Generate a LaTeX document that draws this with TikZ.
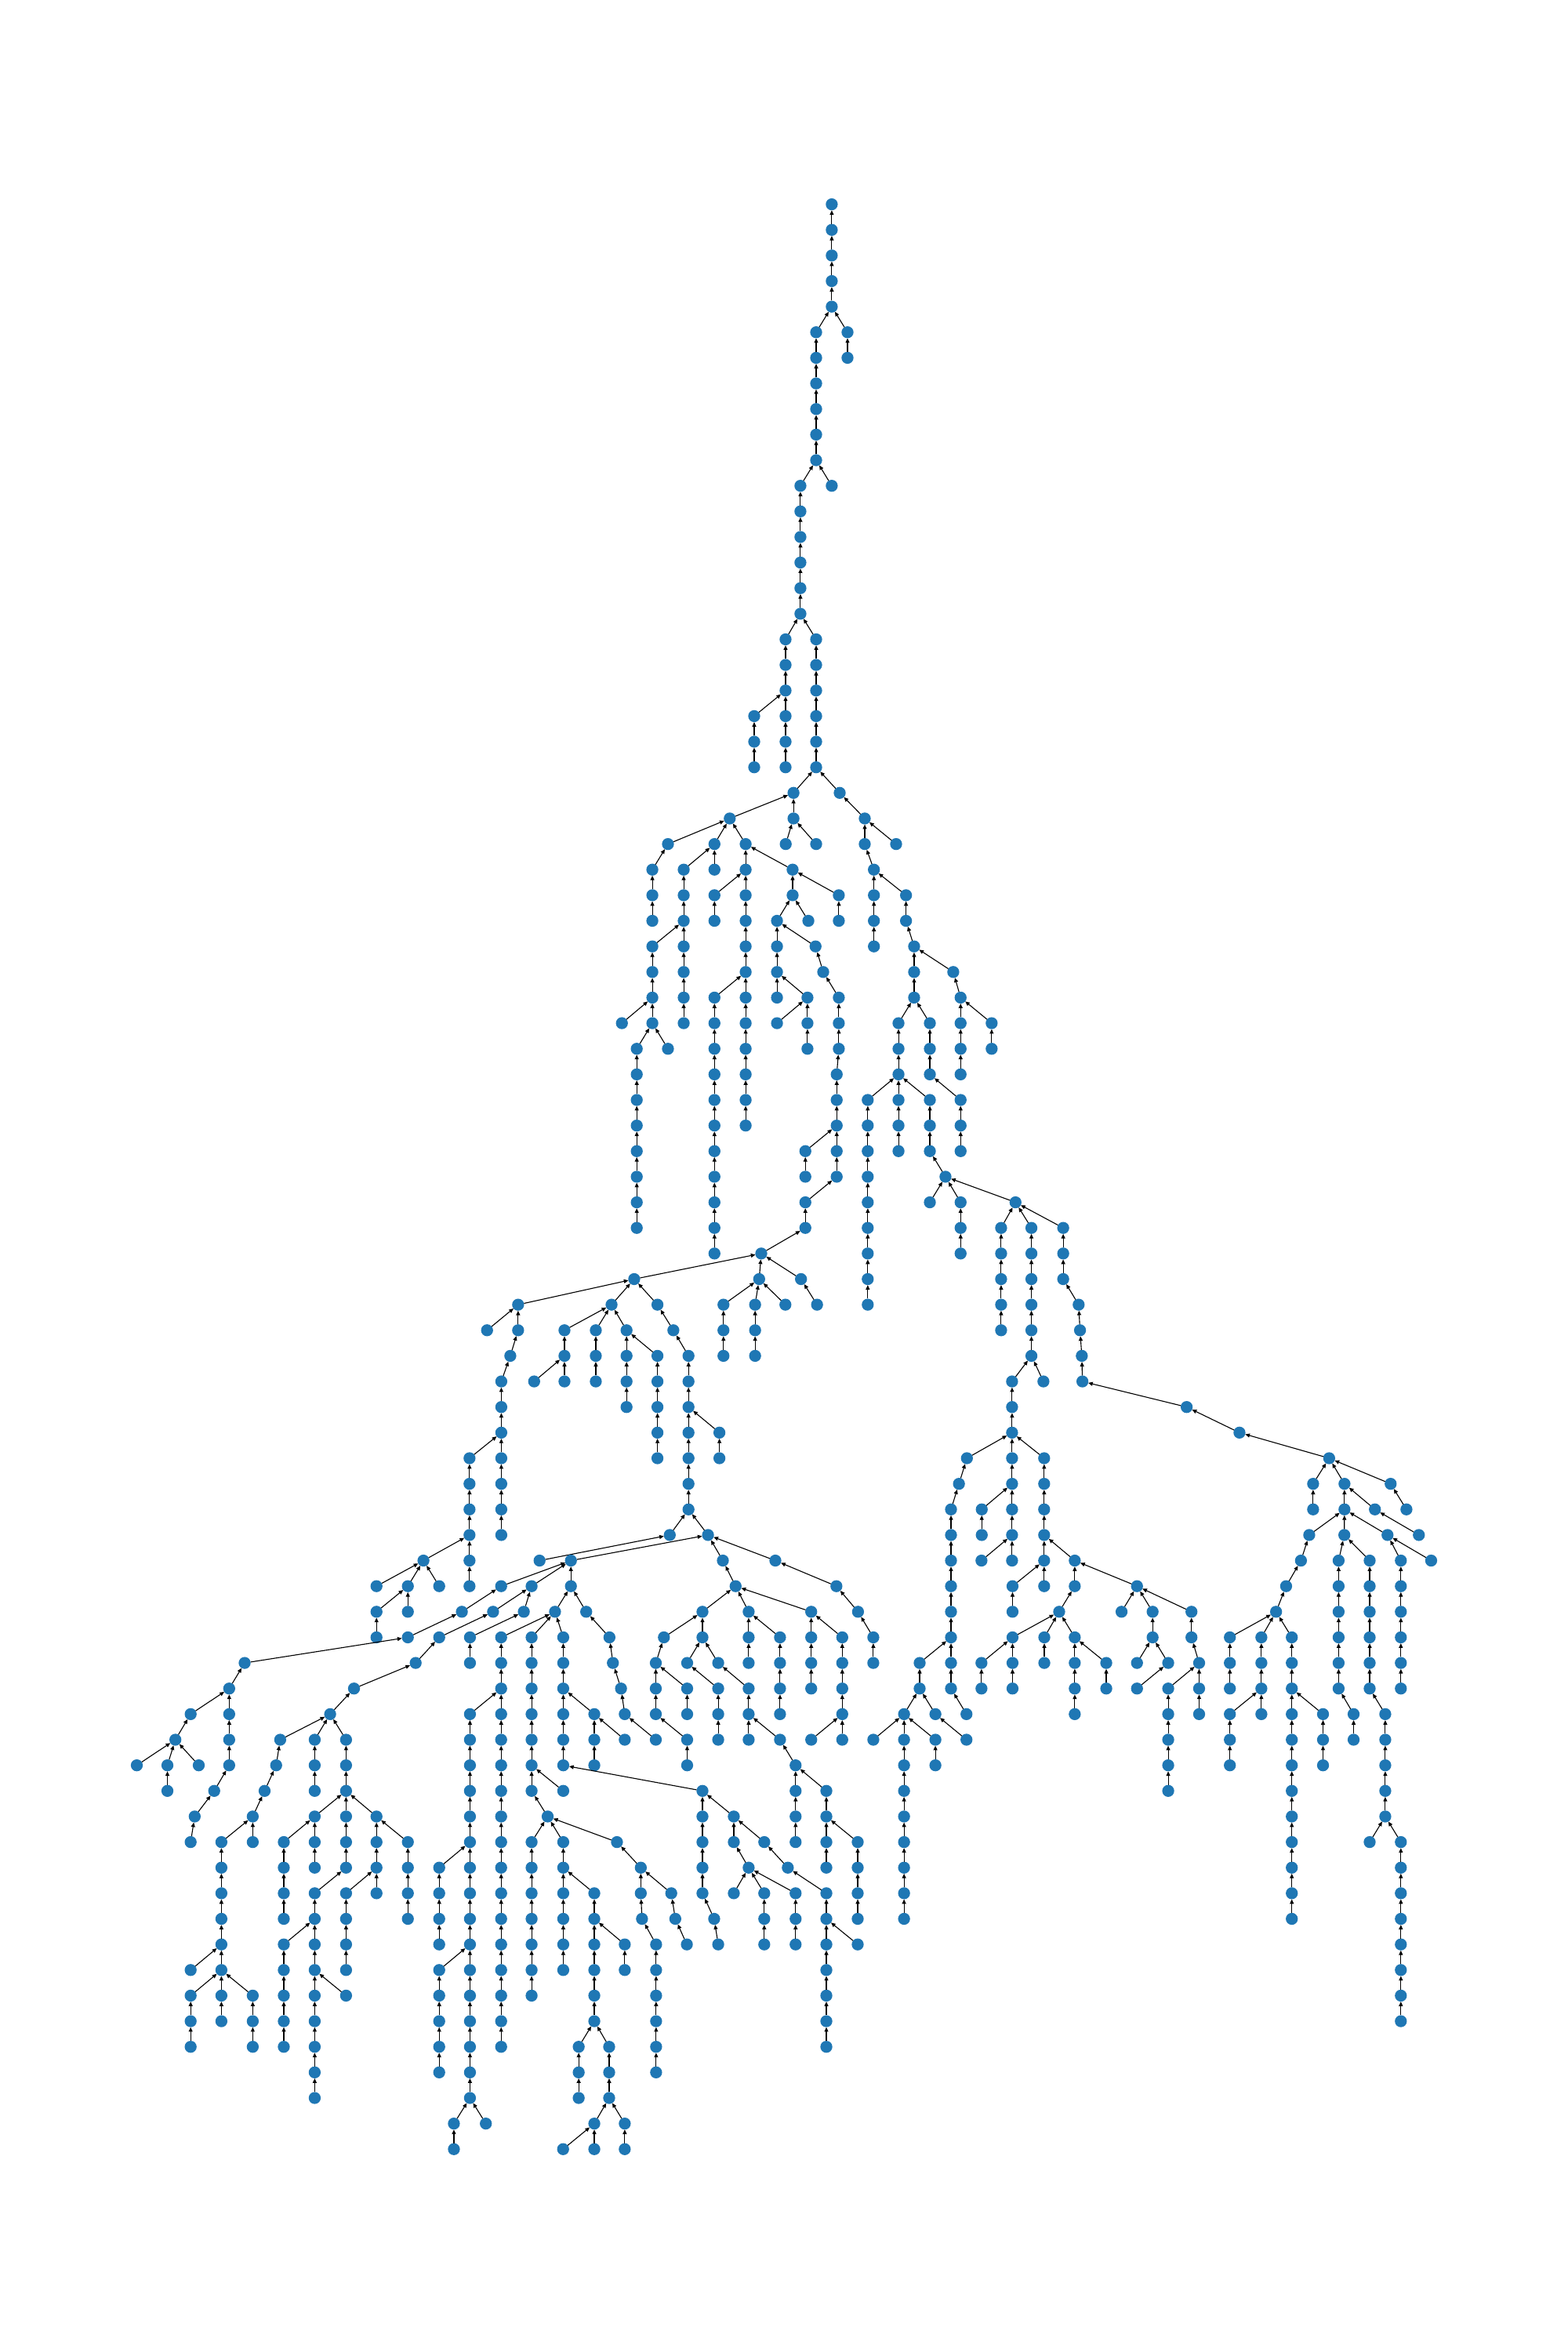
\documentclass[tikz,border=0pt]{standalone}
\usetikzlibrary{arrows.meta}
\definecolor{nodeblue}{HTML}{1F77B4}
\tikzset{
  dot/.style={circle, fill=nodeblue, draw=none, minimum size=8pt, inner sep=0pt, outer sep=0pt},
  edge/.style={-{Triangle[length=3.0pt,width=2.6pt]}, line width=0.58pt, black}
}
% \Br{prefix}{parent}{x}{first level}{last level}: vertical run of nodes prefix-L
\newcommand\Br[5]{%
  \foreach \l in {#4,...,#5}{%
    \node[dot] (#1-\l) at (#3,{136.2+17.06*\l}) {};
    \ifnum\l=#4\relax
      \draw[edge] (#1-\l) -- (#2);
    \else
      \pgfmathtruncatemacro\pl{\l-1}%
      \draw[edge] (#1-\l) -- (#1-\pl);
    \fi
  }%
}
\begin{document}
\begin{tikzpicture}[x=1pt,y=-1pt]
\fill[white] (0,0) rectangle (1045,1568);
\useasboundingbox (0,0) rectangle (1045,1568);
\node[dot] (t-0) at (554.5,136.2) {};
\Br{t}{t-0}{554.5}{1}{4}
\Br{a}{t-4}{544.1}{5}{10}
\Br{b}{t-4}{565.0}{5}{6}
\Br{c}{a-10}{533.6}{11}{16}
\Br{d}{a-10}{554.5}{11}{11}
\Br{e}{c-16}{523.7}{17}{22}
\Br{f}{e-19}{502.8}{20}{22}
\Br{g}{c-16}{544.1}{17}{22}
\Br{h}{g-22}{529.0}{23}{24}
\Br{i}{h-24}{523.8}{25}{25}
\Br{j}{h-24}{544.1}{25}{25}
\Br{k}{g-22}{559.8}{23}{23}
\Br{l}{k-23}{576.5}{24}{25}
\Br{m}{l-24}{597.4}{25}{25}
\Br{n}{l-25}{582.6}{26}{29}
\Br{o}{n-26}{604.0}{27}{28}
\Br{p}{o-28}{609.4}{29}{31}
\Br{q}{p-31}{599.0}{32}{34}
\Br{r}{q-34}{578.5}{35}{43}
\Br{s}{q-34}{599.0}{35}{37}
\Br{u}{q-34}{619.9}{35}{37}
\Br{v}{u-37}{630.3}{38}{38}
\Br{w}{v-38}{619.9}{39}{39}
\Br{x}{v-38}{640.4}{39}{41}
\Br{y}{v-38}{677.0}{39}{39}
\Br{z}{p-31}{619.9}{32}{34}
\Br{aa}{z-34}{640.4}{35}{37}
\Br{ab}{p-29}{635.5}{30}{30}
\Br{ac}{ab-30}{640.4}{31}{34}
\Br{ad}{ac-31}{661.1}{32}{33}
% left upper subtree
\Br{ra}{h-23}{486.5}{24}{24}
\Br{rb}{ra-24}{445.3}{25}{25}
\Br{rc}{rb-25}{434.9}{26}{28}
\Br{rd}{ra-24}{476.3}{25}{26}
\Br{re}{rd-25}{455.8}{26}{32}
\Br{rf}{re-28}{434.9}{29}{32}
\Br{rg}{rf-31}{414.6}{32}{32}
\Br{rh}{rf-32}{424.5}{33}{40}
\Br{ri}{rf-32}{445.3}{33}{33}
\Br{rj}{ra-24}{497.1}{25}{36}
\Br{rk}{rj-26}{476.3}{27}{28}
\Br{rl}{rj-30}{476.3}{31}{41}
\Br{rm}{rj-25}{528.4}{26}{27}
\Br{rn}{rm-27}{518.0}{28}{31}
\Br{ro}{rm-27}{538.9}{28}{28}
\Br{rp}{rn-30}{538.3}{31}{33}
\Br{rq}{rp-31}{518.0}{32}{32}
\Br{rr}{rn-28}{543.7}{29}{29}
\Br{rs}{rr-29}{548.8}{30}{30}
\Br{rt}{rs-30}{559.2}{31}{33}
\Br{ru}{rt-33}{557.8}{34}{38}
\Br{rv}{ru-36}{536.9}{37}{38}
\Br{rw}{ru-38}{536.9}{39}{40}
\Br{rx}{rm-26}{559.2}{27}{28}
% middle
\Br{ma}{rw-40}{507.5}{41}{41}
\Br{mb}{ma-41}{506.1}{42}{42}
\Br{mc}{ma-41}{534.0}{42}{42}
\Br{md}{mc-42}{544.7}{43}{43}
\Br{me}{mb-42}{482.3}{43}{45}
\Br{mf}{mb-42}{503.4}{43}{45}
\Br{mg}{mb-42}{523.6}{43}{43}
\Br{mh}{ma-41}{422.8}{42}{42}
\Br{mi}{mh-42}{345.4}{43}{44}
\Br{mj}{mi-43}{324.7}{44}{44}
\Br{mk}{mi-44}{340.2}{45}{45}
\Br{ml}{mk-45}{334.2}{46}{52}
\Br{mm}{ml-48}{313.0}{49}{54}
\Br{mn}{mh-42}{407.7}{43}{43}
\Br{mo}{mn-43}{376.3}{44}{46}
\Br{mp}{mo-45}{356.1}{46}{46}
\Br{mq}{mn-43}{397.2}{44}{46}
\Br{mr}{mn-43}{417.7}{44}{47}
\Br{ms}{mr-44}{438.3}{45}{49}
\Br{mt}{mh-42}{438.3}{43}{43}
\Br{mu}{mt-43}{448.9}{44}{44}
\Br{mv}{mu-44}{459.0}{45}{51}
\Br{mw}{mv-47}{479.6}{48}{49}
% small left cluster
\Br{la}{mm-52}{282.3}{53}{53}
\Br{lb}{la-53}{251.0}{54}{54}
\Br{lc}{la-53}{271.9}{54}{55}
\Br{ld}{la-53}{292.8}{54}{54}
\Br{le}{lc-54}{251.0}{55}{56}
% lower left
\Br{na}{mv-51}{446.5}{52}{52}
\Br{nb}{mv-51}{472.0}{52}{52}
\Br{nc}{na-52}{359.7}{53}{53}
\Br{nd}{nb-52}{380.6}{53}{54}
\Br{ne}{nd-53}{334.1}{54}{54}
\Br{nf}{ne-54}{307.9}{55}{55}
\Br{ng}{nf-55}{271.9}{56}{56}
\Br{nh}{ng-56}{163.1}{57}{57}
\Br{ni}{nh-57}{152.8}{58}{61}
\Br{nj}{ni-58}{127.1}{59}{59}
\Br{nk}{nj-59}{116.9}{60}{60}
\Br{nl}{nk-60}{91.2}{61}{61}
\Br{nm}{nk-60}{111.6}{61}{62}
\Br{nn}{nk-60}{132.5}{61}{61}
\Br{no}{ni-61}{142.8}{62}{62}
\Br{np}{no-62}{129.8}{63}{63}
\Br{nq}{np-63}{127.1}{64}{64}
\Br{nr}{nd-53}{354.4}{54}{54}
\Br{ns}{nr-54}{328.7}{55}{55}
\Br{nt}{ns-55}{292.8}{56}{56}
\Br{nu}{nt-56}{277.1}{57}{57}
\Br{nv}{nu-57}{236.0}{58}{58}
\Br{nw}{nv-58}{220.1}{59}{59}
\Br{nx}{nw-59}{186.8}{60}{60}
\Br{ny}{nx-60}{184.1}{61}{61}
\Br{nz}{ny-61}{176.4}{62}{62}
\Br{oa}{nz-62}{168.5}{63}{64}
\Br{ob}{oa-63}{147.6}{64}{71}
\Br{oc}{ob-68}{127.1}{69}{69}
\Br{od}{ob-69}{127.1}{70}{72}
\Br{oe}{ob-69}{168.5}{70}{72}
\Br{of}{nw-59}{209.8}{60}{62}
\Br{og}{nw-59}{230.7}{60}{62}
\Br{oh}{og-62}{209.8}{63}{65}
\Br{oi}{oh-63}{189.2}{64}{67}
\Br{oj}{og-62}{230.7}{63}{65}
\Br{ok}{oj-65}{209.8}{66}{74}
\Br{ol}{ok-67}{189.2}{68}{72}
\Br{om}{ok-69}{230.7}{70}{70}
\Br{on}{og-62}{251.0}{63}{66}
\Br{oo}{on-65}{230.7}{66}{69}
\Br{op}{on-63}{271.9}{64}{67}
\Br{oq}{nr-54}{349.2}{55}{55}
\Br{or}{oq-55}{313.3}{56}{57}
\Br{os}{nd-54}{370.0}{55}{55}
\Br{ot}{os-55}{334.1}{56}{72}
\Br{ou}{ot-58}{313.3}{59}{74}
\Br{ov}{ou-64}{292.8}{65}{68}
\Br{ow}{ou-68}{292.8}{69}{73}
\Br{ox}{ou-74}{302.6}{75}{76}
\Br{oy}{ou-74}{323.9}{75}{75}
\Br{oz}{os-55}{354.4}{56}{62}
\Br{pa}{oz-61}{375.5}{62}{62}
\Br{pb}{oz-62}{365.1}{63}{63}
\Br{pc}{pb-63}{354.4}{64}{70}
\Br{pd}{pb-63}{375.5}{64}{69}
\Br{pe}{os-55}{375.5}{56}{61}
\Br{pf}{pe-58}{396.2}{59}{61}
\Br{pg}{pf-59}{416.5}{60}{60}
\Br{ph}{nd-54}{390.8}{55}{55}
\Br{pi}{ph-55}{406.3}{56}{56}
\Br{pj}{pi-56}{408.6}{57}{57}
\Br{pk}{pj-57}{414.0}{58}{58}
\Br{pl}{pk-58}{416.5}{59}{59}
\Br{pm}{pl-59}{437.2}{60}{60}
\Br{pn}{pe-61}{468.3}{62}{66}
\Br{po}{pn-66}{476.1}{67}{67}
\Br{pp}{po-67}{478.8}{68}{68}
\Br{pq}{pn-62}{489.2}{63}{64}
\Br{pr}{pq-64}{499.1}{65}{65}
\Br{ps}{pr-65}{489.2}{66}{66}
\Br{pt}{pr-65}{509.5}{66}{68}
\Br{pu}{pr-65}{530.4}{66}{68}
\Br{pv}{pq-63}{509.5}{64}{64}
\Br{pw}{pv-64}{525.2}{65}{65}
\Br{px}{pw-65}{550.9}{66}{72}
\Br{py}{px-67}{571.8}{68}{68}
\Br{pz}{pb-63}{411.3}{64}{64}
\Br{qa}{pz-64}{427.2}{65}{66}
\Br{qb}{qa-66}{428.0}{67}{67}
\Br{qc}{qb-67}{437.4}{68}{73}
\Br{qd}{qa-65}{447.5}{66}{66}
\Br{qe}{qd-66}{450.2}{67}{67}
\Br{qf}{qe-67}{457.9}{68}{68}
\Br{qg}{pd-65}{396.2}{66}{71}
\Br{qh}{qg-67}{416.5}{68}{69}
\Br{qi}{qg-71}{385.8}{72}{74}
\Br{qj}{qg-71}{406.1}{72}{74}
\Br{qk}{qj-74}{396.2}{75}{76}
\Br{ql}{qj-74}{416.5}{75}{76}
\Br{qm}{qk-75}{375.4}{76}{76}
% lower middle
\Br{sa}{nb-52}{481.9}{53}{53}
\Br{sb}{sa-53}{490.4}{54}{54}
\Br{sc}{sb-54}{468.3}{55}{55}
\Br{sd}{sc-55}{442.6}{56}{56}
\Br{se}{sd-56}{437.2}{57}{59}
\Br{sf}{se-57}{458.1}{58}{59}
\Br{sg}{se-59}{458.1}{60}{61}
\Br{sh}{sc-55}{468.3}{56}{56}
\Br{si}{sh-56}{458.1}{57}{57}
\Br{sj}{si-57}{478.8}{58}{60}
\Br{sk}{sh-56}{478.8}{57}{57}
\Br{sl}{sk-57}{499.1}{58}{60}
\Br{sm}{sl-59}{520.0}{60}{60}
\Br{sn}{sm-60}{530.4}{61}{64}
\Br{so}{sn-61}{550.9}{62}{65}
\Br{sp}{so-63}{571.8}{64}{67}
\Br{sq}{sb-54}{499.1}{55}{57}
\Br{sr}{sq-55}{520.0}{56}{59}
\Br{ss}{sb-54}{540.8}{55}{58}
\Br{st}{ss-55}{561.5}{56}{60}
\Br{su}{st-59}{540.8}{60}{60}
\Br{sv}{nb-52}{516.9}{53}{53}
\Br{sw}{sv-53}{557.6}{54}{54}
\Br{sx}{sw-54}{572.0}{55}{55}
\Br{sy}{sx-55}{582.2}{56}{57}
% right subtree
\Br{ua}{y-39}{667.4}{40}{44}
\Br{ub}{y-39}{687.6}{40}{45}
\Br{uc}{ub-45}{674.7}{46}{48}
\Br{ud}{ub-45}{695.6}{46}{46}
\Br{ue}{uc-48}{644.6}{49}{49}
\Br{uf}{ue-49}{639.3}{50}{50}
\Br{ug}{uf-50}{634.0}{51}{58}
\Br{uh}{ug-56}{613.1}{57}{58}
\Br{ui}{uh-58}{602.7}{59}{67}
\Br{uj}{ui-59}{582.2}{60}{60}
\Br{uk}{ui-59}{623.6}{60}{61}
\Br{ul}{uh-58}{623.6}{59}{59}
\Br{um}{ul-59}{644.3}{60}{60}
\Br{un}{ug-58}{644.3}{59}{59}
\Br{uo}{uc-48}{674.7}{49}{53}
\Br{up}{uo-50}{654.5}{51}{52}
\Br{uq}{uo-52}{654.3}{53}{53}
\Br{ur}{uc-48}{696.1}{49}{54}
\Br{us}{ur-52}{716.5}{53}{54}
\Br{ut}{us-54}{706.1}{55}{55}
\Br{uu}{ut-55}{675.0}{56}{58}
\Br{uv}{uu-56}{654.3}{57}{58}
\Br{uw}{ut-55}{696.2}{56}{57}
\Br{ux}{ut-55}{716.5}{56}{59}
\Br{uy}{ux-56}{737.5}{57}{58}
\Br{uz}{ur-53}{675.0}{54}{55}
\Br{va}{us-53}{758.0}{54}{54}
\Br{vb}{va-54}{747.7}{55}{55}
\Br{vc}{va-54}{768.4}{55}{56}
\Br{vd}{vc-56}{758.0}{57}{57}
\Br{ve}{vc-56}{778.8}{57}{57}
\Br{vf}{ve-57}{758.0}{58}{58}
\Br{vg}{va-54}{794.3}{55}{56}
\Br{vh}{vg-56}{799.4}{57}{59}
\Br{vi}{vh-57}{778.8}{58}{62}
\Br{vj}{y-39}{708.8}{40}{42}
\Br{vk}{vj-42}{719.1}{43}{43}
\Br{vl}{vk-43}{720.0}{44}{44}
\Br{vm}{vl-44}{721.2}{45}{45}
\Br{vn}{vm-45}{721.6}{46}{46}
\Br{vo}{vn-46}{791.1}{47}{47}
\Br{vp}{vo-47}{826.3}{48}{48}
\Br{vq}{vp-48}{886.1}{49}{49}
\Br{vr}{vq-49}{875.4}{50}{51}
\Br{vs}{vq-49}{896.3}{50}{51}
\Br{vt}{vs-50}{916.6}{51}{51}
\Br{vtt}{vt-51}{945.9}{52}{52}
\Br{vu}{vq-49}{927.1}{50}{50}
\Br{vv}{vu-50}{937.6}{51}{51}
\Br{vw}{vs-51}{872.8}{52}{52}
\Br{vx}{vw-52}{867.3}{53}{53}
\Br{vy}{vx-53}{857.4}{54}{54}
\Br{vz}{vy-54}{850.7}{55}{55}
\Br{wa}{vz-55}{819.9}{56}{58}
\Br{wb}{vz-55}{840.9}{56}{59}
\Br{wc}{wb-58}{819.9}{59}{61}
\Br{wd}{vz-55}{861.2}{56}{67}
\Br{we}{wd-58}{882.0}{59}{61}
\Br{wf}{vs-51}{896.2}{52}{52}
\Br{wg}{wf-52}{892.4}{53}{58}
\Br{wh}{wg-58}{902.4}{59}{60}
\Br{wi}{wf-52}{913.1}{53}{58}
\Br{wj}{wi-58}{923.5}{59}{63}
\Br{wk}{wj-63}{913.1}{64}{64}
\Br{wl}{wj-63}{933.9}{64}{71}
\Br{wm}{vs-51}{925.0}{52}{52}
\Br{wn}{wm-52}{933.9}{53}{58}
\Br{wo}{wm-52}{954.1}{53}{53}
\end{tikzpicture}
\end{document}
